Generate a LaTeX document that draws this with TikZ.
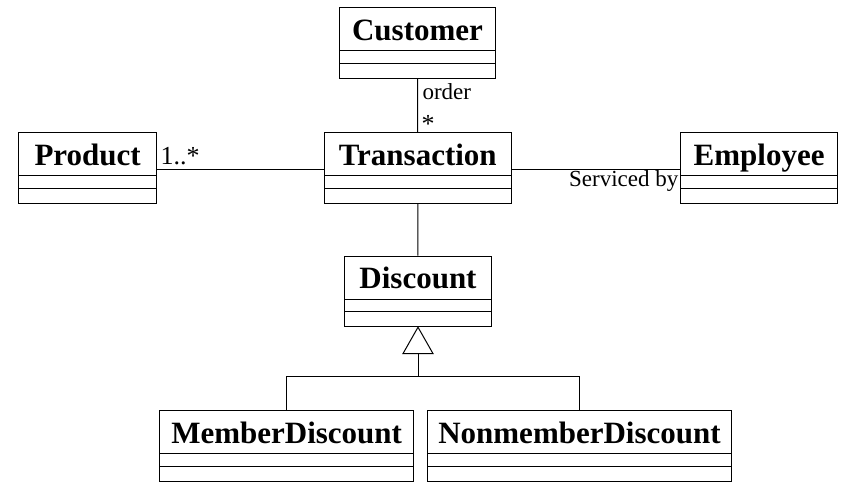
\documentclass[tikz,border=0pt]{standalone}
\usepackage{fontspec}
\setmainfont{Liberation Serif}
\usetikzlibrary{calc}

\tikzset{
  classbox/.style={draw, line width=1pt, inner sep=0pt, minimum height=70.5pt, anchor=north west},
  classtitle/.style={inner sep=0pt, anchor=base, font=\fontsize{31}{31}\selectfont\bfseries},
  roletext/.style={inner sep=0pt, font=\fontsize{23}{23}\selectfont},
  multtext/.style={inner sep=0pt, font=\fontsize{26}{26}\selectfont},
  link/.style={line width=1pt},
}

% #1 name, #2 left x, #3 top y, #4 width, #5 class name
\newcommand\umlclass[5]{%
  \node[classbox, minimum width=#4pt] (#1) at (#2,#3) {};
  \node[classtitle] (#1-title) at ($(#1.north)+(0,32.7)$) {#5};
  \draw[link] ($(#1.north west)+(0,43.5)$) -- ($(#1.north east)+(0,43.5)$);
  \draw[link] ($(#1.north west)+(0,56)$) -- ($(#1.north east)+(0,56)$);
}

\begin{document}
\begin{tikzpicture}[x=1pt, y=-1pt]
  \useasboundingbox (0,0) rectangle (843,482);

  \umlclass{customer}{339.3}{7.3}{155.4}{Customer}
  \umlclass{transaction}{324}{132.3}{186.5}{Transaction}
  \umlclass{product}{18.3}{132.3}{137.7}{Product}
  \umlclass{employee}{680.3}{132.3}{156.7}{Employee}
  \umlclass{discount}{344.3}{255.7}{146.4}{Discount}
  \umlclass{member}{159}{410.3}{254.3}{MemberDiscount}
  \umlclass{nonmember}{427.3}{410.3}{303.4}{NonmemberDiscount}

  % associations
  \draw[link] (customer) -- (transaction);
  \draw[link] ([yshift=-1.8pt]product.east) -- ([yshift=-1.8pt]transaction.west);
  \draw[link] ([yshift=-1.8pt]transaction.east) -- ([yshift=-1.8pt]employee.west);
  \draw[link] (transaction) -- (discount);

  % association labels
  \node[roletext, anchor=base west] (order) at (422.3,99) {order};
  \node[multtext, anchor=base west] (ordermult) at (421.5,132) {*};
  \node[multtext, anchor=base west] (prodmult) at (160.5,164) {1..*};
  \node[roletext, anchor=base east] (service) at (678.5,186.7) {Serviced by};

  % generalization
  \coordinate (tip) at (discount.south);
  \coordinate (base) at ($(tip)+(0,26.4)$);
  \coordinate (bar) at (tip |- 0,376.7);
  \draw[link, line join=miter] (tip) -- ($(base)+(-15,0)$) -- ($(base)+(15,0)$) -- cycle;
  \draw[link] (base) -- (bar);
  \draw[link] (member.north) -- (member.north |- bar) -- (nonmember.north |- bar) -- (nonmember.north);
\end{tikzpicture}
\end{document}
